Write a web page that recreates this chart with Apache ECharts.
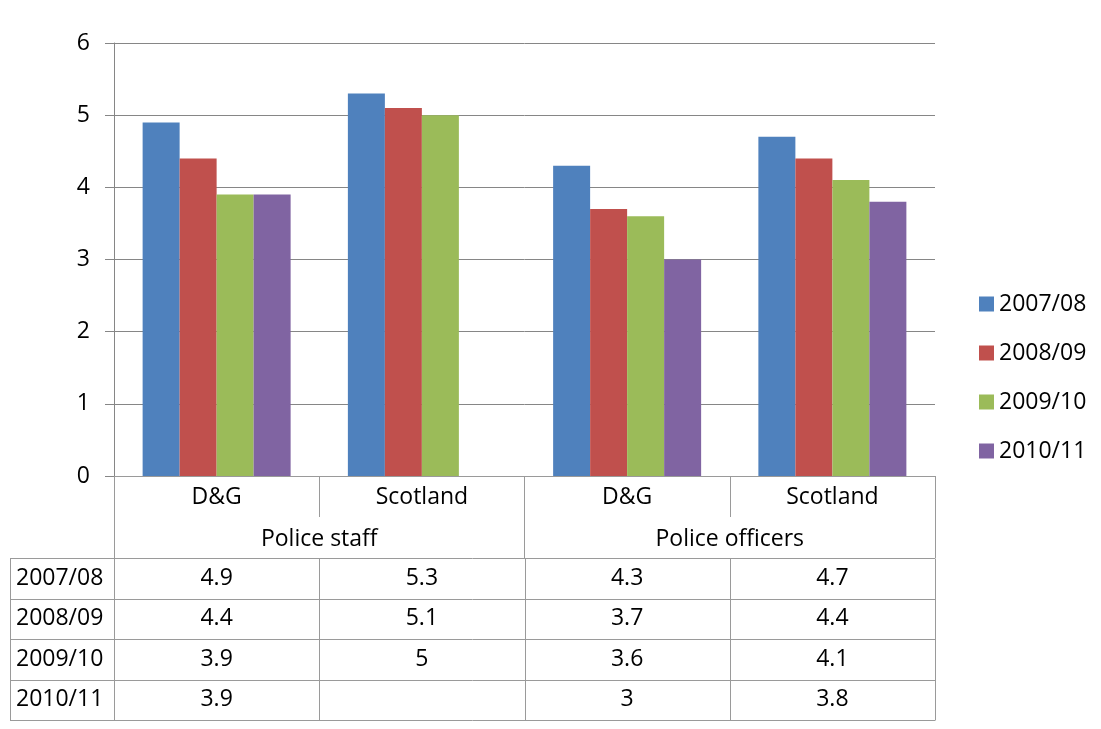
<!DOCTYPE html>
<html>
<head>
<meta charset="utf-8">
<script src="https://cdn.jsdelivr.net/npm/echarts@6/dist/echarts.min.js"></script>
<style>
  html, body { margin: 0; padding: 0; background: #fff; }
  #chart { width: 1101px; height: 729px; }
</style>
</head>
<body>
<div id="chart"></div>
<script>
// Sickness absence rates by staff type and area
const categories = ['D&G', 'Scotland', 'D&G', 'Scotland'];
const groups = ['Police staff', 'Police officers'];
const seriesNames = ['2007/08', '2008/09', '2009/10', '2010/11'];
const values0708 = [4.9, 5.3, 4.3, 4.7];
const values0809 = [4.4, 5.1, 3.7, 4.4];
const values0910 = [3.9, 5.0, 3.6, 4.1];
const values1011 = [3.9, null, 3.0, 3.8];
const colors = ['#4F81BD', '#C0504D', '#9BBB59', '#8064A2'];

const allValues = [values0708, values0809, values0910, values1011];
const FONT = '"Open Sans", sans-serif';
const FS = 23;
const LINE = '#9a9a9a';

const chart = echarts.init(document.getElementById('chart'), null, { renderer: 'canvas' });

const option = {
  animation: false,
  backgroundColor: '#fff',
  textStyle: { fontFamily: FONT },
  grid: { left: 114, right: 166, top: 43, bottom: 253, containLabel: false },
  legend: {
    orient: 'vertical',
    left: 974,
    top: 287,
    itemWidth: 15,
    itemHeight: 15,
    itemGap: 25,
    icon: 'rect',
    textStyle: { fontFamily: FONT, fontSize: FS, color: '#000', lineHeight: 24 },
    data: seriesNames
  },
  xAxis: [
    {
      type: 'category',
      position: 'bottom',
      data: categories,
      axisLine: { show: true, lineStyle: { color: LINE, width: 1 } },
      axisTick: { show: true, length: 41, interval: 0, lineStyle: { color: LINE } },
      axisLabel: { interval: 0, margin: 10, fontSize: FS, color: '#000', fontFamily: FONT },
      splitLine: { show: false }
    },
    {
      type: 'category',
      position: 'bottom',
      data: groups,
      axisLine: { show: false },
      axisTick: { show: true, length: 82, interval: 0, lineStyle: { color: LINE } },
      axisLabel: { interval: 0, margin: 52, fontSize: FS, color: '#000', fontFamily: FONT },
      splitLine: { show: false }
    }
  ],
  yAxis: {
    type: 'value',
    min: 0,
    max: 6,
    interval: 1,
    axisLine: { show: true, lineStyle: { color: '#868686' } },
    axisTick: { show: true, length: 9, lineStyle: { color: '#868686' } },
    axisLabel: { margin: 24, fontSize: FS, color: '#000', fontFamily: FONT },
    splitLine: { show: true, lineStyle: { color: '#868686', width: 1 } }
  },
  series: seriesNames.map((name, i) => ({
    name: name,
    type: 'bar',
    xAxisIndex: 0,
    data: allValues[i],
    barWidth: 37,
    barGap: '0%',
    itemStyle: { color: colors[i] }
  }))
};

chart.setOption(option);

// Data table below the axis, positioned from the category axis scale
function buildTable() {
  const cx = categories.map((_, i) => chart.convertToPixel({ xAxisIndex: 0 }, i));
  const band = cx[1] - cx[0];
  const xEdges = [cx[0] - band / 2].concat(cx.map(c => c + band / 2));
  const yBase = chart.convertToPixel({ yAxisIndex: 0 }, 0);
  const tableTop = yBase + 82;
  const rowH = 40.5;
  const tableLeft = 10;
  const els = [];
  const lineStyle = { stroke: LINE, lineWidth: 1 };
  const nRows = seriesNames.length;
  for (let r = 0; r <= nRows; r++) {
    const y = Math.round(tableTop + r * rowH) + 0.5;
    els.push({ type: 'line', shape: { x1: tableLeft, y1: y, x2: xEdges[xEdges.length - 1], y2: y }, style: lineStyle, silent: true });
  }
  const bottom = Math.round(tableTop + nRows * rowH) + 0.5;
  const vx = [tableLeft].concat(xEdges);
  vx.forEach(x => {
    const xx = Math.round(x) + 0.5;
    els.push({ type: 'line', shape: { x1: xx, y1: Math.round(tableTop) + 0.5, x2: xx, y2: bottom }, style: lineStyle, silent: true });
  });
  for (let r = 0; r < nRows; r++) {
    const yc = tableTop + (r + 0.5) * rowH;
    els.push({
      type: 'text', x: tableLeft + 6, y: yc, silent: true,
      style: { text: seriesNames[r], font: FS + 'px ' + FONT, fill: '#000', align: 'left', verticalAlign: 'middle' }
    });
    allValues[r].forEach((v, c) => {
      if (v === null || v === undefined) return;
      els.push({
        type: 'text', x: cx[c], y: yc, silent: true,
        style: { text: String(v), font: FS + 'px ' + FONT, fill: '#000', align: 'center', verticalAlign: 'middle' }
      });
    });
  }
  chart.setOption({ graphic: { elements: els } });
}
buildTable();
</script>
</body>
</html>
